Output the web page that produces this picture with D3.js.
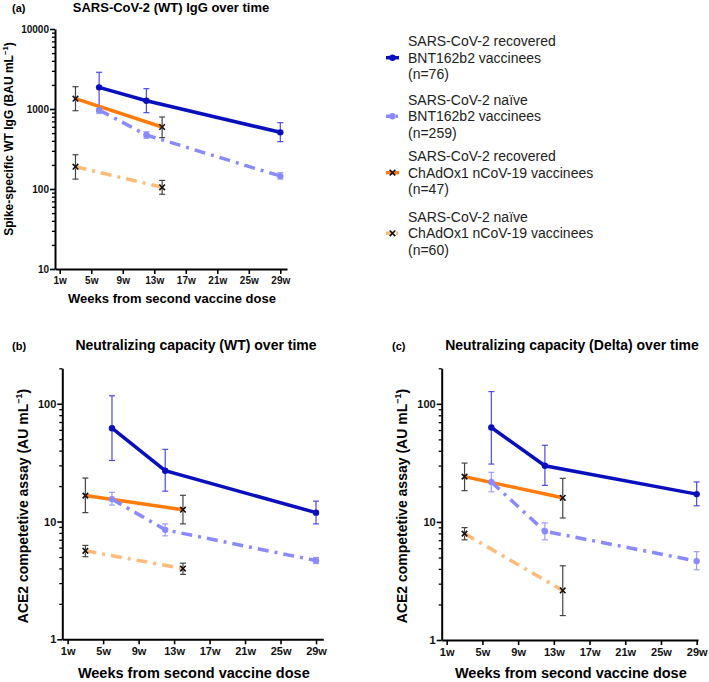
<!DOCTYPE html>
<html>
<head>
<meta charset="utf-8">
<script src="https://cdn.jsdelivr.net/npm/d3@7"></script>
<style>
  body { margin: 0; background: #fff; }
  svg { font-family: "Liberation Sans", Arial, sans-serif; }
</style>
</head>
<body>
<svg id="chart" width="709" height="682"></svg>
<script>
// weeks after second dose for each group
const seriesWeeks = [[6, 12, 29], [6, 12, 29], [3, 14], [3, 14]];
const xTicks = [1, 5, 9, 13, 17, 21, 25, 29];

const legendLines = [
  ["SARS-CoV-2 recovered", "BNT162b2 vaccinees", "(n=76)"],
  ["SARS-CoV-2 naïve", "BNT162b2 vaccinees", "(n=259)"],
  ["SARS-CoV-2 recovered", "ChAdOx1 nCoV-19 vaccinees", "(n=47)"],
  ["SARS-CoV-2 naïve", "ChAdOx1 nCoV-19 vaccinees", "(n=60)"]
];

// (a) spike IgG, BAU/mL
const iggMean = [[1866, 1270, 511], [972, 473, 145], [1345, 596], [190, 105]];
const iggLow  = [[926, 900, 391], [880, 430, 133], [952, 438], [133, 86]];
const iggHigh = [[2877, 1795, 675], [1080, 520, 160], [1900, 794], [268, 128]];

// (b) neutralizing WT, AU/mL
const wtMean = [[62, 27, 11.9], [15.5, 8.5, 4.66], [16.6, 12.6], [5.64, 3.99]];
const wtLow  = [[33, 18.1, 9.55], [13.8, 7.56, 4.4], [11.9, 9.55], [5.03, 3.56]];
const wtHigh = [[117, 41, 14.9], [17.7, 9.55, 4.95], [23.4, 16.7], [6.27, 4.43]];

// (c) neutralizing Delta, AU/mL
const deltaMean = [[63, 29.9, 17.2], [21.8, 8.33, 4.66], [24.2, 16], [7.96, 2.63]];
const deltaLow  = [[30.9, 20.4, 13.7], [18, 7.05, 3.93], [18.4, 10.8], [7.05, 1.61]];
const deltaHigh = [[127, 44.6, 21.8], [26.3, 9.8, 5.6], [31.5, 23.4], [8.95, 4.25]];

// styles per series
const lineColor = ["#0a0fbe", "#8a8aff", "#ff7b0a", "#ffbb7a"];
const barColor  = ["#4a4ae6", "#9c9cff", "#444444", "#444444"];
const dashes    = [null, "11,6,3,6", null, "11,6,3,6"];
const markers   = ["circle", "circle", "x", "x"];
const drawOrder = [3, 2, 1, 0];

const svg = d3.select("#chart");

function drawPanel(p) {
  const x = d3.scaleLinear().domain(p.xDomain).range(p.xRange);
  const y = d3.scaleLog().domain(p.yDomain).range(p.yRange);
  const g = svg.append("g");

  // minor log ticks
  const minor = [];
  for (let dec = p.yDomain[0]; dec < p.yDomain[1]; dec *= 10) {
    for (let k = 2; k <= 9; k++) if (dec * k <= p.yDomain[1]) minor.push(dec * k);
  }
  const majors = [];
  for (let dec = p.yDomain[0]; dec <= p.yDomain[1]; dec *= 10) majors.push(dec);

  g.append("g")
    .attr("transform", `translate(${p.xRange[0]},0)`)
    .call(d3.axisLeft(y).tickValues(minor).tickFormat("").tickSize(3).tickSizeOuter(0))
    .call(a => a.select(".domain").remove())
    .selectAll("line").attr("stroke", "#000").attr("stroke-width", 1.3);

  const ya = g.append("g")
    .attr("transform", `translate(${p.xRange[0]},0)`)
    .call(d3.axisLeft(y).tickValues(majors).tickFormat(d3.format("d")).tickSize(5).tickSizeOuter(0));
  ya.select(".domain").attr("stroke", "#000").attr("stroke-width", 2);
  ya.selectAll(".tick line").attr("stroke-width", 1.6);
  ya.selectAll("text").attr("font-size", p.tickFont).attr("font-weight", "bold")
    .attr("fill", "#111").attr("x", -6);

  const xa = g.append("g")
    .attr("transform", `translate(0,${p.yRange[0]})`)
    .call(d3.axisBottom(x).tickValues(xTicks).tickFormat(d => d + "w").tickSize(5).tickSizeOuter(0));
  xa.select(".domain").attr("stroke", "#000").attr("stroke-width", 2);
  xa.selectAll(".tick line").attr("stroke-width", 1.6);
  xa.selectAll("text").attr("font-size", p.tickFont).attr("font-weight", "bold")
    .attr("fill", "#111").attr("y", 8);

  // error bars
  drawOrder.forEach(s => {
    seriesWeeks[s].forEach((w, i) => {
      const cx = x(w);
      const bg = g.append("g").attr("stroke", barColor[s]).attr("stroke-width", 1.2);
      bg.append("line").attr("x1", cx).attr("x2", cx)
        .attr("y1", y(p.low[s][i])).attr("y2", y(p.high[s][i]));
      [p.low[s][i], p.high[s][i]].forEach(v => {
        bg.append("line").attr("x1", cx - 3).attr("x2", cx + 3)
          .attr("y1", y(v)).attr("y2", y(v));
      });
    });
  });

  // lines and markers
  const line = d3.line().x(d => x(d[0])).y(d => y(d[1]));
  drawOrder.forEach(s => {
    const pts = seriesWeeks[s].map((w, i) => [w, p.mean[s][i]]);
    g.append("path").datum(pts)
      .attr("d", line)
      .attr("fill", "none")
      .attr("stroke", lineColor[s])
      .attr("stroke-width", 3.5)
      .attr("stroke-dasharray", dashes[s]);
    pts.forEach(d => drawMarker(g, s, x(d[0]), y(d[1])));
  });

  // titles and labels
  g.append("text").attr("x", 12).attr("y", p.titleY)
    .attr("font-size", 11).attr("font-weight", "bold").attr("x", p.letterX)
    .text(p.letter);
  g.append("text").attr("x", p.titleX).attr("y", p.titleY)
    .attr("text-anchor", "middle").attr("font-size", p.titleFont).attr("font-weight", "bold")
    .text(p.title);

  g.append("text")
    .attr("x", (p.xRange[0] + p.xRange[1]) / 2 + 1).attr("y", p.xLabelY)
    .attr("text-anchor", "middle").attr("font-size", p.labelFont).attr("font-weight", "bold")
    .text("Weeks from second vaccine dose");

  const yl = g.append("text")
    .attr("transform", `translate(${p.yLabelX},${p.yLabelY}) rotate(-90)`)
    .attr("text-anchor", "middle").attr("font-size", p.yLabelFont).attr("font-weight", "bold");
  yl.append("tspan").text(p.yLabel);
  yl.append("tspan").attr("font-size", p.yLabelFont * 0.65).attr("dy", -p.yLabelFont * 0.4).text("−1");
  yl.append("tspan").attr("dy", p.yLabelFont * 0.4).text(")");
}

function drawMarker(g, s, cx, cy) {
  if (markers[s] === "circle") {
    g.append("circle").attr("cx", cx).attr("cy", cy).attr("r", 3.2).attr("fill", lineColor[s]);
  } else {
    g.append("path")
      .attr("transform", `translate(${cx},${cy})`)
      .attr("d", d3.symbol(d3.symbolX, 22)())
      .attr("stroke", "#111").attr("stroke-width", 1.6).attr("fill", "none");
  }
}

drawPanel({
  letter: "(a)", letterX: 12, title: "SARS-CoV-2 (WT) IgG over time", titleX: 171, titleY: 12,
  titleFont: 13, tickFont: 10, labelFont: 13, yLabelFont: 12,
  xDomain: [0.4, 29.85], xRange: [55, 287], yDomain: [10, 10000], yRange: [269, 29],
  xLabelY: 303, yLabel: "Spike-specific WT IgG (BAU mL", yLabelX: 13, yLabelY: 139,
  mean: iggMean, low: iggLow, high: iggHigh
});

drawPanel({
  letter: "(b)", letterX: 12, title: "Neutralizing capacity (WT) over time", titleX: 196, titleY: 350,
  titleFont: 14, tickFont: 11, labelFont: 14.5, yLabelFont: 14,
  xDomain: [0.4, 29.82], xRange: [62.3, 323.3], yDomain: [1, 200], yRange: [639.3, 368.3],
  xLabelY: 678, yLabel: "ACE2 competetive assay (AU mL", yLabelX: 28, yLabelY: 506,
  mean: wtMean, low: wtLow, high: wtHigh
});

drawPanel({
  letter: "(c)", letterX: 392, title: "Neutralizing capacity (Delta) over time", titleX: 572, titleY: 350,
  titleFont: 14, tickFont: 11, labelFont: 14.5, yLabelFont: 14,
  xDomain: [0.44, 29.15], xRange: [441.7, 698], yDomain: [1, 200], yRange: [640, 368.3],
  xLabelY: 678, yLabel: "ACE2 competetive assay (AU mL", yLabelX: 407, yLabelY: 506,
  mean: deltaMean, low: deltaLow, high: deltaHigh
});

// legend
const legendRows = [57.7, 116.3, 172.7, 233.3];
const lg = svg.append("g");
legendLines.forEach((lines, s) => {
  const cy = legendRows[s];
  lg.append("line").attr("x1", 386).attr("x2", 399).attr("y1", cy).attr("y2", cy)
    .attr("stroke", lineColor[s]).attr("stroke-width", 3.5)
    .attr("stroke-dasharray", dashes[s] ? "7,3,2,3" : null);
  drawMarker(lg, s, 392.5, cy);
  lines.forEach((t, j) => {
    lg.append("text").attr("x", 408).attr("y", cy + (j - 1) * 16.5 + 5)
      .attr("font-size", 14).attr("fill", "#222").text(t);
  });
});
</script>
</body>
</html>
